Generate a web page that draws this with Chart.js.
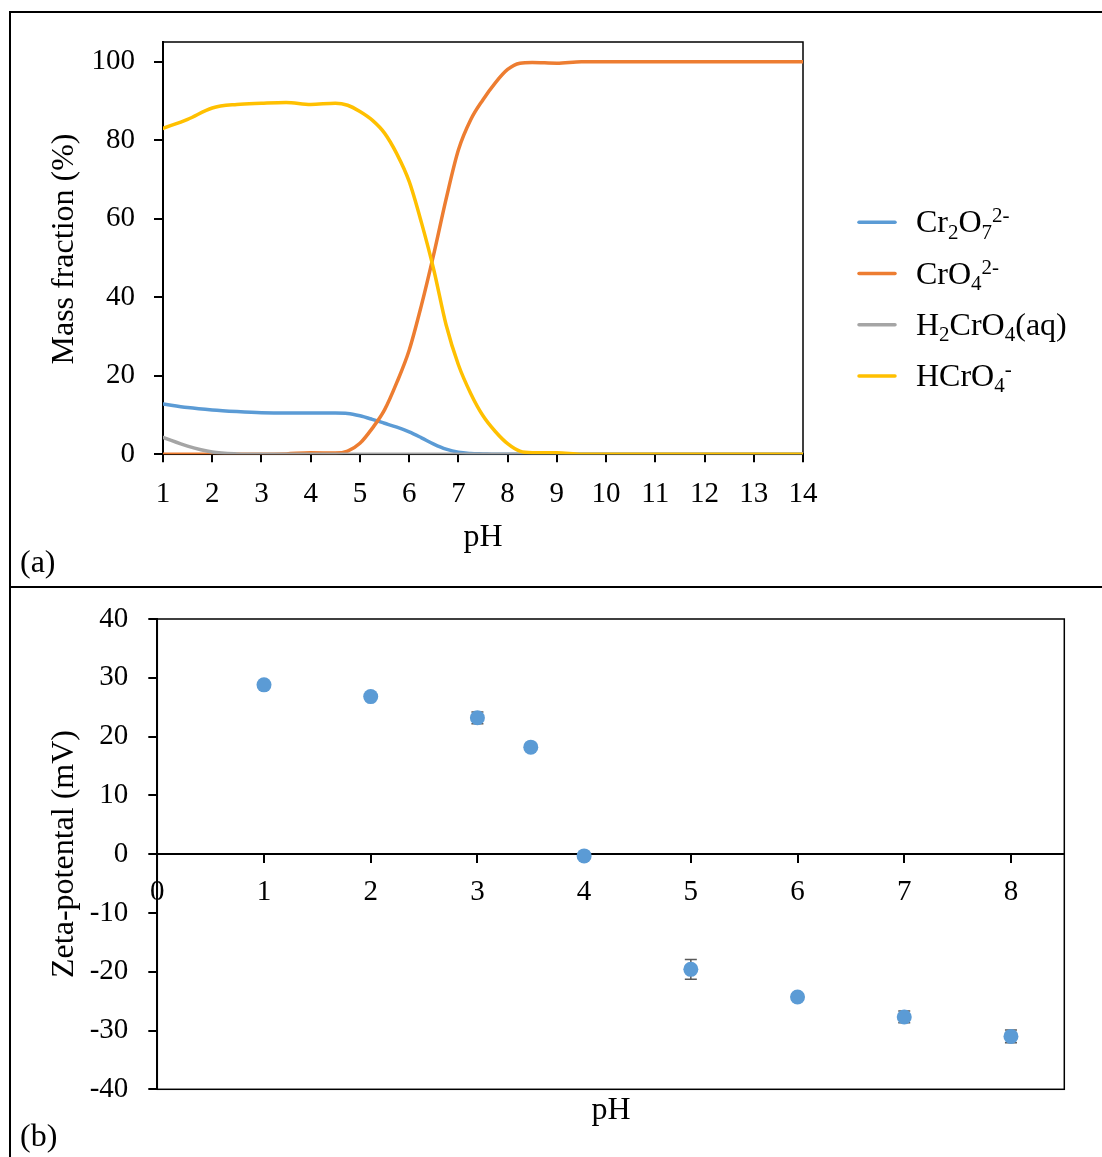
<!DOCTYPE html>
<html>
<head>
<meta charset="utf-8">
<script src="https://cdn.jsdelivr.net/npm/chart.js@4.4.0/dist/chart.umd.min.js"></script>
<style>
  body { margin: 0; background: #fff; }
  #page { position: relative; width: 1102px; height: 1157px; overflow: hidden; }
  canvas { position: absolute; left: 0; }
  #chartA { top: 0; }
  #chartB { top: 587px; }
  .rule { position: absolute; background: #000; }
</style>
</head>
<body>
<div id="page">
  <canvas id="chartA" width="1102" height="587"></canvas>
  <canvas id="chartB" width="1102" height="570"></canvas>
  <div class="rule" style="left:9px;top:11px;width:1093px;height:2px"></div>
  <div class="rule" style="left:9px;top:11px;width:2px;height:1146px"></div>
  <div class="rule" style="left:9px;top:586px;width:1093px;height:2px"></div>
</div>
<script>
// (a) speciation of Cr(VI) vs pH
const phA = [1, 1.5, 2, 2.5, 3, 3.5, 4, 4.5, 4.75, 5, 5.25, 5.5, 5.75, 6, 6.25, 6.5, 6.75, 7, 7.25, 7.5, 7.75, 8, 8.25, 8.5, 9, 9.5, 10, 11, 12, 13, 14];
const cr2o7 = [12.8, 11.9, 11.3, 10.9, 10.6, 10.5, 10.5, 10.5, 10.4, 9.8, 8.9, 7.9, 6.9, 5.7, 4.2, 2.6, 1.3, 0.5, 0.2, 0.1, 0, 0, 0, 0, 0, 0, 0, 0, 0, 0, 0];
const cro4 = [0, 0, 0, 0, 0, 0.1, 0.4, 0.3, 0.8, 2.8, 6.6, 11.3, 18.3, 26.5, 38, 51, 65, 77.5, 85.2, 90.3, 94.6, 98, 99.6, 99.8, 99.6, 100, 100, 100, 100, 100, 100];
const h2cro4 = [4.3, 2.1, 0.6, 0.1, 0, 0, 0, 0, 0, 0, 0, 0, 0, 0, 0, 0, 0, 0, 0, 0, 0, 0, 0, 0, 0, 0, 0, 0, 0, 0, 0];
const hcro4 = [83.0, 85.3, 88.2, 89.1, 89.4, 89.6, 89.1, 89.4, 88.9, 87.3, 85.1, 81.8, 76.5, 69.5, 59, 47, 33, 22.8, 15.5, 9.8, 5.8, 2.7, 0.8, 0.4, 0.4, 0, 0, 0, 0, 0, 0];

// legend text pieces: '' normal, 'sub', 'sup'
const labelCr2O7 = [['Cr', ''], ['2', 'sub'], ['O', ''], ['7', 'sub'], ['2-', 'sup']];
const labelCrO4 = [['CrO', ''], ['4', 'sub'], ['2-', 'sup']];
const labelH2CrO4 = [['H', ''], ['2', 'sub'], ['CrO', ''], ['4', 'sub'], ['(aq)', '']];
const labelHCrO4 = [['HCrO', ''], ['4', 'sub'], ['-', 'sup']];

// (b) zeta potential vs pH
const phB = [1, 2, 3, 3.5, 4, 5, 6, 7, 8];
const zeta = [28.8, 26.8, 23.2, 18.2, -0.3, -19.6, -24.3, -27.7, -31.0];
const zetaErr = [0.3, 0.4, 1.0, 0.4, 0.5, 1.7, 0.5, 1.0, 1.1];

const FONT = "'Liberation Serif', 'Times New Roman', serif";
const tickFont = { family: FONT, size: 29 };
const TITLE_SIZE = 32;

function points(xs, ys) {
    return xs.map((x, i) => ({ x: x, y: ys[i] }));
}

// axis titles and panel letters
const textPlugin = {
    id: 'panelText',
    afterDraw(chart, args, opts) {
        const ctx = chart.ctx;
        ctx.save();
        ctx.fillStyle = '#000';
        ctx.font = `${TITLE_SIZE}px ${FONT}`;
        ctx.textBaseline = 'alphabetic';
        opts.items.forEach(it => {
            ctx.save();
            ctx.translate(it.x, it.y);
            ctx.rotate((it.rotate || 0) * Math.PI / 180);
            ctx.textAlign = it.align || 'center';
            ctx.fillText(it.text, 0, 0);
            ctx.restore();
        });
        ctx.restore();
    }
};

// box round the plot area
const framePlugin = {
    id: 'plotFrame',
    beforeDatasetsDraw(chart) {
        const { ctx, chartArea: a } = chart;
        ctx.save();
        ctx.strokeStyle = '#000';
        ctx.lineWidth = 1.5;
        ctx.strokeRect(a.left, a.top, a.right - a.left, a.bottom - a.top);
        ctx.restore();
    }
};

// legend with sub/superscripts
const legendPlugin = {
    id: 'richLegend',
    afterDraw(chart, args, opts) {
        const ctx = chart.ctx;
        ctx.save();
        ctx.textBaseline = 'alphabetic';
        ctx.textAlign = 'left';
        chart.data.datasets.forEach((ds, i) => {
            const y = opts.top + i * opts.gap;
            ctx.strokeStyle = ds.borderColor;
            ctx.lineWidth = 3.5;
            ctx.lineCap = 'round';
            ctx.beginPath();
            ctx.moveTo(opts.x, y);
            ctx.lineTo(opts.x + 36, y);
            ctx.stroke();
            let x = opts.textX;
            ctx.fillStyle = '#000';
            ds.richLabel.forEach(([txt, kind]) => {
                const size = kind ? 21 : TITLE_SIZE;
                const dy = kind === 'sub' ? 6.5 : kind === 'sup' ? -10 : 0;
                ctx.font = `${size}px ${FONT}`;
                ctx.fillText(txt, x, y + 10 + dy);
                x += ctx.measureText(txt).width;
            });
        });
        ctx.restore();
    }
};

// vertical error bars with caps, under the markers
const errorBarPlugin = {
    id: 'errorBars',
    beforeDatasetsDraw(chart) {
        const { ctx, scales } = chart;
        ctx.save();
        ctx.strokeStyle = '#595959';
        ctx.lineWidth = 1.5;
        chart.data.datasets.forEach(ds => {
            ds.data.forEach((p, i) => {
                const px = scales.x.getPixelForValue(p.x);
                const top = scales.y.getPixelForValue(p.y + ds.errors[i]);
                const bot = scales.y.getPixelForValue(p.y - ds.errors[i]);
                ctx.beginPath();
                ctx.moveTo(px, top); ctx.lineTo(px, bot);
                ctx.moveTo(px - 6, top); ctx.lineTo(px + 6, top);
                ctx.moveTo(px - 6, bot); ctx.lineTo(px + 6, bot);
                ctx.stroke();
            });
        });
        ctx.restore();
    }
};

function lineSet(label, rich, values, color, order) {
    return {
        label: label,
        richLabel: rich,
        data: points(phA, values),
        borderColor: color,
        borderWidth: 3.5,
        borderCapStyle: 'round',
        pointRadius: 0,
        cubicInterpolationMode: 'monotone',
        order: order
    };
}

// fixed y-axis width, no extra top/bottom padding from the labels
function fixWidth(w) {
    return s => {
        s.width = w;
        s.paddingTop = 0;
        s.paddingBottom = 0;
    };
}

new Chart(document.getElementById('chartA'), {
    type: 'line',
    data: {
        datasets: [
            lineSet('Cr2O7 2-', labelCr2O7, cr2o7, '#5B9BD5', 4),
            lineSet('CrO4 2-', labelCrO4, cro4, '#ED7D31', 3),
            lineSet('H2CrO4(aq)', labelH2CrO4, h2cro4, '#A5A5A5', 2),
            lineSet('HCrO4 -', labelHCrO4, hcro4, '#FFC000', 1)
        ]
    },
    options: {
        responsive: false,
        animation: false,
        layout: { padding: { top: 42, right: 299, left: 0, bottom: 0 } },
        scales: {
            x: {
                type: 'linear', min: 1, max: 14,
                afterFit(s) { s.height = 587 - 454.3; },
                border: { color: '#000', width: 2 },
                grid: { drawOnChartArea: false, tickLength: 8, color: '#000', lineWidth: 2 },
                ticks: { stepSize: 1, color: '#000', font: tickFont, padding: 15, maxRotation: 0, autoSkip: false }
            },
            y: {
                min: 0, max: 105,
                afterFit: fixWidth(163),
                border: { color: '#000', width: 2 },
                grid: { drawOnChartArea: false, tickLength: 9, color: '#000', lineWidth: 2 },
                ticks: { stepSize: 20, includeBounds: false, color: '#000', font: tickFont, padding: 19 }
            }
        },
        plugins: {
            legend: { display: false },
            tooltip: { enabled: false },
            richLegend: { x: 859, textX: 916, top: 222.3, gap: 51.2 },
            panelText: {
                items: [
                    { text: 'Mass fraction (%)', x: 73, y: 249, rotate: -90 },
                    { text: 'pH', x: 483, y: 546 },
                    { text: '(a)', x: 20, y: 572, align: 'left' }
                ]
            }
        }
    },
    plugins: [framePlugin, legendPlugin, textPlugin]
});

new Chart(document.getElementById('chartB'), {
    type: 'scatter',
    data: {
        datasets: [{
            label: 'Zeta-potental',
            data: points(phB, zeta),
            errors: zetaErr,
            backgroundColor: '#5B9BD5',
            borderColor: '#5B9BD5',
            borderWidth: 0,
            pointRadius: 7.5
        }]
    },
    options: {
        responsive: false,
        animation: false,
        layout: { padding: { top: 32, right: 37.7, left: 0, bottom: 0 } },
        scales: {
            x: {
                type: 'linear', min: 0, max: 8.5,
                afterFit(s) { s.height = 570 - 502.3; },
                border: { display: false },
                grid: { display: false },
                ticks: { display: false }
            },
            x2: {
                type: 'linear', axis: 'x', position: { y: 0 }, min: 0, max: 8.5,
                border: { color: '#000', width: 2 },
                grid: { drawOnChartArea: false, tickLength: 8, color: '#000', lineWidth: 2 },
                ticks: { stepSize: 1, includeBounds: false, color: '#000', font: tickFont, padding: 13, maxRotation: 0, autoSkip: false }
            },
            y: {
                min: -40, max: 40,
                afterFit: fixWidth(157.3),
                border: { color: '#000', width: 2 },
                grid: { drawOnChartArea: false, tickLength: 9, color: '#000', lineWidth: 2 },
                ticks: { stepSize: 10, color: '#000', font: tickFont, padding: 20 }
            }
        },
        plugins: {
            legend: { display: false },
            tooltip: { enabled: false },
            panelText: {
                items: [
                    { text: 'Zeta-potental (mV)', x: 73, y: 267, rotate: -90 },
                    { text: 'pH', x: 611, y: 532 },
                    { text: '(b)', x: 20, y: 559, align: 'left' }
                ]
            }
        }
    },
    plugins: [framePlugin, errorBarPlugin, textPlugin]
});
</script>
</body>
</html>
